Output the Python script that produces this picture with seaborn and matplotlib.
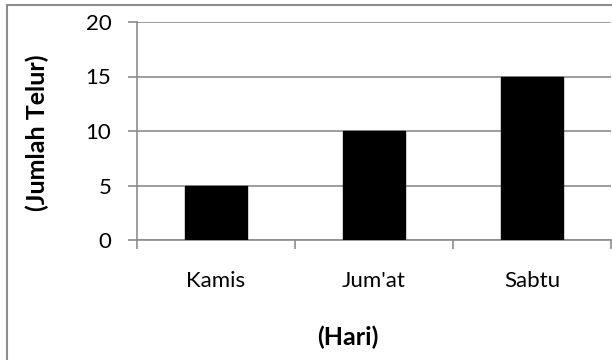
import matplotlib
matplotlib.use("Agg")
import matplotlib.pyplot as plt
import matplotlib.patches as mpatches
import seaborn as sns
import pandas as pd

# Number of eggs per day
days = ["Kamis", "Jum'at", "Sabtu"]
eggs = [5, 10, 15]
y_ticks = [0, 5, 10, 15, 20]

sns.set_theme(style="white")
plt.rcParams["font.family"] = ["Lato", "DejaVu Sans"]

W, H = 612, 360
fig = plt.figure(figsize=(W / 100, H / 100), dpi=100)
fig.patch.set_facecolor("white")

# chart frame
frame = mpatches.Rectangle((7 / W, -0.1), 1.2, 1 - 5 / H + 0.1, transform=fig.transFigure,
                           fill=False, edgecolor="#8c8c8c", linewidth=1.5)
fig.patches.append(frame)

left, right, top, bottom = 137, 611, 22, 240
ax = fig.add_axes([left / W, 1 - bottom / H, (right - left) / W, (bottom - top) / H])

df = pd.DataFrame({"Hari": days, "Jumlah": eggs})
sns.barplot(data=df, x="Hari", y="Jumlah", color="black", width=0.39, saturation=1,
            ax=ax, zorder=3)
for p in ax.patches:
    p.set_edgecolor("black")

ax.set_xlim(-0.5, 2.5)
ax.set_ylim(0, 20)
ax.set_yticks(y_ticks)
ax.yaxis.grid(True, color="#8c8c8c", linewidth=1.2, zorder=0)
ax.set_axisbelow(True)

for s in ["top", "right"]:
    ax.spines[s].set_visible(False)
for s in ["left", "bottom"]:
    ax.spines[s].set_color("#8c8c8c")
    ax.spines[s].set_linewidth(1.2)

ax.tick_params(axis="y", which="major", direction="out", length=6.5, width=1.2,
               color="#8c8c8c", labelsize=16, labelcolor="black", pad=12, left=True)
ax.tick_params(axis="x", which="major", length=0, labelsize=16, labelcolor="black", pad=22)
ax.set_xticks([-0.5, 0.5, 1.5, 2.5], minor=True)
ax.tick_params(axis="x", which="minor", direction="out", length=6.5, width=1.2,
               color="#8c8c8c", bottom=True)

ax.set_xlabel("")
ax.set_ylabel("")
fig.text(37 / W, 1 - 133 / H, "(Jumlah Telur)", rotation=90, ha="center", va="center",
         fontsize=18, fontweight="bold", color="black")
fig.text(348 / W, 1 - 337 / H, "(Hari)", ha="center", va="center",
         fontsize=18, fontweight="bold", color="black")

fig.savefig("out.png", dpi=100, facecolor="white")
